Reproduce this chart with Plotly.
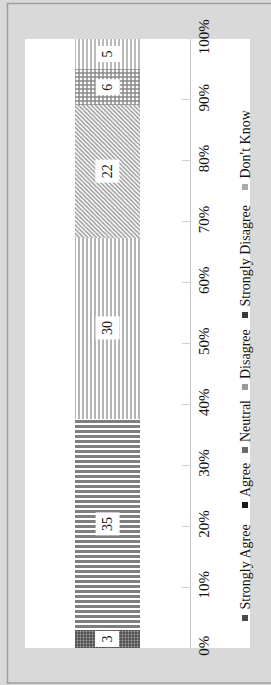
import plotly.graph_objects as go
import numpy as np

# ---- data ----
categories = ["Strongly Agree", "Agree", "Neutral", "Disagree", "Strongly Disagree", "Don't Know"]
values = [3, 35, 30, 22, 6, 5]
tick_values = [0, 10, 20, 30, 40, 50, 60, 70, 80, 90, 100]
tick_labels = ["0%", "10%", "20%", "30%", "40%", "50%", "60%", "70%", "80%", "90%", "100%"]
bar_category = ["Q"]

# ---- styles ----
patterns = [
    dict(shape=".", size=3, solidity=0.3, fgcolor="#ffffff", bgcolor="#505050"),
    dict(shape="-", size=5, solidity=0.6, fgcolor="#000000", bgcolor="#ffffff"),
    dict(shape="|", size=4, solidity=0.35, fgcolor="#2a2a2a", bgcolor="#ffffff"),
    dict(shape="\\", size=3, solidity=0.5, fgcolor="#3a3a3a", bgcolor="#ffffff"),
    dict(shape="+", size=4, solidity=0.6, fgcolor="#111111", bgcolor="#ffffff"),
    dict(shape="|", size=4, solidity=0.42, fgcolor="#5a5a5a", bgcolor="#ffffff"),
]
legend_marker_colors = ["#4a4a4a", "#1a1a1a", "#6a6a6a", "#9a9a9a", "#3a3a3a", "#aaaaaa"]

W, H = 271, 685
L, R, T, B = 25, 190, 39, 648  # plot area in pixels
SERIF = "Liberation Serif, Times New Roman, serif"
TXT = "#111111"

def px_x(x):
    return (x - L) / (R - L)

def px_y(y):
    return (B - y) / (B - T)

fig = go.Figure()
for name, v, pat in zip(categories, values, patterns):
    fig.add_trace(go.Bar(
        x=bar_category, y=[v], name=name,
        marker=dict(color="#ffffff", pattern=pat, line=dict(width=0)),
        width=0.39, showlegend=False,
    ))

# data labels at segment midpoints (normalized to percent)
total = float(np.sum(values))
cum = np.cumsum(values) / total * 100
mids = cum - np.array(values) / total * 100 / 2
annotations = []
for v, m in zip(values, mids):
    annotations.append(dict(
        x=bar_category[0], y=m, xref="x", yref="y", text=str(v), showarrow=False,
        textangle=-90, bgcolor="#ffffff", borderpad=4,
        font=dict(family=SERIF, size=14, color=TXT),
    ))

# rotated legend
legend_marker_y = [618, 505, 450, 387, 315, 187]
legend_x = 245
shapes = [
    # white chart area
    dict(type="rect", xref="paper", yref="paper", x0=px_x(L), x1=px_x(250), y0=0, y1=1,
         fillcolor="#ffffff", line=dict(width=0), layer="below"),
    # outer border
    dict(type="rect", xref="paper", yref="paper", x0=px_x(7.5), x1=px_x(290), y0=px_y(3.5), y1=px_y(683),
         fillcolor="rgba(0,0,0,0)", line=dict(color="#9e9e9e", width=1.5), layer="below"),
]
for name, ym, col in zip(categories, legend_marker_y, legend_marker_colors):
    shapes.append(dict(type="rect", xref="paper", yref="paper",
                       x0=px_x(legend_x - 3), x1=px_x(legend_x + 3),
                       y0=px_y(ym + 3), y1=px_y(ym - 3),
                       fillcolor=col, line=dict(width=0)))
    annotations.append(dict(
        x=px_x(legend_x), y=px_y(ym - 6), xref="paper", yref="paper", text=name,
        showarrow=False, textangle=-90, xanchor="center", yanchor="bottom",
        font=dict(family=SERIF, size=14, color=TXT),
    ))

fig.update_layout(
    width=W, height=H,
    margin=dict(l=L, r=W - R, t=T, b=H - B, pad=0),
    paper_bgcolor="#d9d9d9", plot_bgcolor="#ffffff",
    barmode="stack", barnorm="percent",
    showlegend=False,
    xaxis=dict(visible=False, range=[-0.5, 0.5]),
    yaxis=dict(
        side="right", range=[0, 100], tickvals=tick_values, ticktext=tick_labels,
        tickangle=-90, ticks="inside", ticklen=8, tickcolor="#d0d0d0",
        showline=True, linecolor="#c8c8c8", linewidth=1,
        showgrid=False, zeroline=False, automargin=False,
        tickfont=dict(family=SERIF, size=15, color=TXT),
    ),
    shapes=shapes, annotations=annotations,
)

fig.write_html(
    "out.html",
    config={"displayModeBar": False},
    post_script="document.body.style.margin='0';document.body.style.overflow='hidden';",
)
